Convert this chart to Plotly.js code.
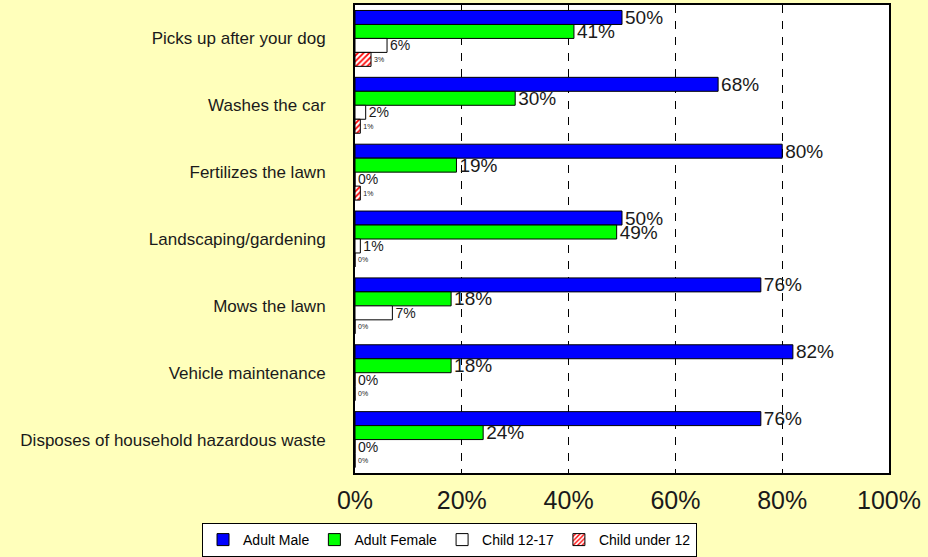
<!DOCTYPE html>
<html>
<head>
<meta charset="utf-8">
<script src="https://cdn.plot.ly/plotly-3.0.1.min.js"></script>
<style>html,body{margin:0;padding:0;background:#FFFFBB;}#chart{width:928px;height:557px;}</style>
</head>
<body>
<div id="chart"></div>
<script>
const categories = ["Picks up after your dog", "Washes the car", "Fertilizes the lawn", "Landscaping/gardening", "Mows the lawn", "Vehicle maintenance", "Disposes of household hazardous waste"];
const adultMale = [50, 68, 80, 50, 76, 82, 76];
const adultFemale = [41, 30, 19, 49, 18, 18, 24];
const child1217 = [6, 2, 0, 1, 7, 0, 0];
const childUnder12 = [3, 1, 1, 0, 0, 0, 0];
const xTickVals = [0, 20, 40, 60, 80, 100];
const xTickText = ["0%", "20%", "40%", "60%", "80%", "100%"];

const FONT = 'Arial, Liberation Sans, sans-serif';

function tr(name, vals, color, fontSize, pattern) {
  const t = {
    type: 'bar', orientation: 'h', name: name,
    y: categories, x: vals,
    text: vals.map(v => v + '%'), textposition: 'outside',
    textfont: {family: FONT, size: fontSize, color: '#1a1a1a'},
    constraintext: 'none', cliponaxis: false,
    marker: {color: color, line: {color: '#000', width: 1}},
    hoverinfo: 'skip'
  };
  if (pattern) t.marker.pattern = {shape: '/', fgcolor: '#FF0000', bgcolor: '#FFFFFF', size: 4, solidity: 0.45};
  return t;
}

const data = [
  tr('Adult Male', adultMale, '#0000FF', 19),
  tr('Adult Female', adultFemale, '#00FF00', 19),
  tr('Child 12-17', child1217, '#FFFFFF', 14),
  tr('Child under 12', childUnder12, '#FFFFFF', 7, true)
];

const layout = {
  width: 928, height: 557,
  paper_bgcolor: '#FFFFBB', plot_bgcolor: '#FFFFFF',
  margin: {l: 355, r: 39, t: 5, b: 84, autoexpand: false},
  barmode: 'group', bargap: 0.164, bargroupgap: 0,
  font: {family: FONT, color: '#1a1a1a'},
  showlegend: true,
  legend: {orientation: 'h', xref: 'container', x: 0.2177, xanchor: 'left',
    yref: 'container', y: 0.0, yanchor: 'bottom',
    bgcolor: '#FFFFFF', bordercolor: '#000', borderwidth: 1,
    font: {size: 14, color: '#000'}, itemwidth: 30, traceorder: 'normal'},
  xaxis: {range: [0, 100], tickvals: xTickVals, ticktext: xTickText,
    tickfont: {size: 25, color: '#1a1a1a'}, ticks: '', ticklabelstandoff: 4,
    showgrid: true, gridcolor: '#000', gridwidth: 1, griddash: '8px,8px',
    showline: true, mirror: true, linecolor: '#000', linewidth: 2, zeroline: false, fixedrange: true},
  yaxis: {autorange: 'reversed', tickfont: {size: 17, color: '#1a1a1a'}, ticks: '',
    ticklabelstandoff: 24, showgrid: false,
    showline: true, mirror: true, linecolor: '#000', linewidth: 2, zeroline: false, fixedrange: true}
};

Plotly.newPlot('chart', data, layout, {displayModeBar: false, staticPlot: true});
</script>
</body>
</html>
